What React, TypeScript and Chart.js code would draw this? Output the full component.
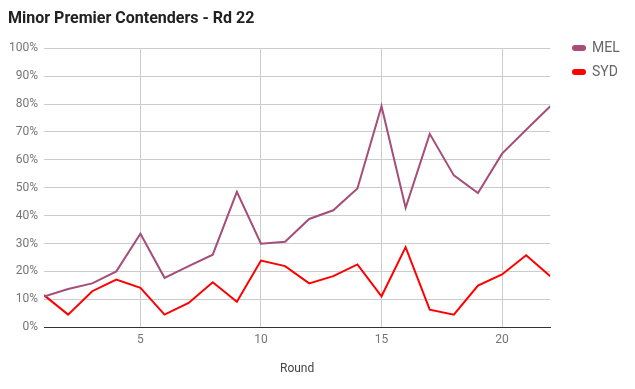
import React, { useEffect, useRef } from "react";
import { Chart, registerables } from "chart.js";

Chart.register(...registerables);

const rounds = [1, 2, 3, 4, 5, 6, 7, 8, 9, 10, 11, 12, 13, 14, 15, 16, 17, 18, 19, 20, 21, 22];
const melValues = [11, 13.7, 15.7, 20, 33.5, 17.7, 21.9, 26, 48.5, 29.9, 30.6, 38.8, 41.9, 49.7, 79.2, 42.8, 69.3, 54.4, 48.1, 62.2, 70.8, 79.2];
const sydValues = [11.5, 4.5, 12.9, 17.1, 14.1, 4.5, 8.7, 16.1, 9.1, 23.9, 21.9, 15.7, 18.3, 22.5, 11.1, 28.7, 6.3, 4.5, 14.9, 18.9, 25.8, 18.3];
const xTickValues = [5, 10, 15, 20];
const chartTitle = "Minor Premier Contenders - Rd 22";
const xAxisTitle = "Round";

const FONT = "Roboto, 'Noto Sans', sans-serif";

// Place the legend block beside the plot, level with its top edge.
const legendPlacePlugin = {
  id: "legendPlace",
  afterLayout(chart: any) {
    const lg = chart.legend;
    if (!lg) return;
    const targetLeft = 563;
    const targetTop = 31;
    const dx = targetLeft - lg.left;
    const dy = targetTop - lg.top;
    lg.left += dx;
    lg.right += dx;
    lg.top += dy;
    lg.bottom += dy;
  },
};

export default function App() {
  const ref = useRef<HTMLCanvasElement>(null);
  useEffect(() => {
    if (!ref.current) return;
    const chart = new Chart(ref.current, {
      type: "line",
      data: {
        datasets: [
          {
            label: "MEL",
            data: rounds.map((r, i) => ({ x: r, y: melValues[i] })),
            borderColor: "#a64d79",
            backgroundColor: "#a64d79",
            borderWidth: 2,
            pointRadius: 0,
            tension: 0,
          },
          {
            label: "SYD",
            data: rounds.map((r, i) => ({ x: r, y: sydValues[i] })),
            borderColor: "#ff0000",
            backgroundColor: "#ff0000",
            borderWidth: 2,
            pointRadius: 0,
            tension: 0,
          },
        ],
      },
      options: {
        animation: false,
        responsive: true,
        maintainAspectRatio: false,
        layout: { padding: { left: 8, right: 18, top: 0, bottom: 13 } },
        plugins: {
          title: {
            display: true,
            text: chartTitle,
            align: "start",
            color: "#212121",
            font: { family: FONT, size: 16, weight: "bold" },
            padding: { top: 9, bottom: 20 },
          },
          legend: {
            position: "right",
            align: "start",
            labels: {
              boxWidth: 12,
              boxHeight: 4,
              useBorderRadius: true,
              borderRadius: 2,
              color: "#666666",
              font: { family: FONT, size: 14 },
              padding: 10,
            },
          },
          tooltip: { enabled: false },
        },
        scales: {
          x: {
            type: "linear",
            min: 1,
            max: 22,
            afterBuildTicks: (scale: any) => {
              scale.ticks = xTickValues.map((v) => ({ value: v }));
            },
            grid: { color: "#cccccc", drawTicks: false },
            border: { display: true, color: "#333333", width: 1 },
            ticks: {
              color: "#757575",
              font: { family: FONT, size: 12 },
              padding: 6,
              maxRotation: 0,
            },
            title: {
              display: true,
              text: xAxisTitle,
              color: "#444444",
              font: { family: FONT, size: 12 },
              padding: { top: 8, bottom: 0 },
            },
          },
          y: {
            min: 0,
            max: 100,
            afterFit: (scale: any) => {
              scale.width = 36;
            },
            grid: {
              color: (c: any) => (c.tick && c.tick.value === 0 ? "#333333" : "#cccccc"),
              drawTicks: false,
            },
            border: { display: false },
            ticks: {
              stepSize: 10,
              color: "#757575",
              font: { family: FONT, size: 12 },
              padding: 6,
              callback: (v: any) => v + "%",
            },
          },
        },
      },
      plugins: [legendPlacePlugin],
    });
    return () => chart.destroy();
  }, []);
  return (
    <div style={{ position: "absolute", left: 0, top: 0, width: 635, height: 389 }}>
      <canvas ref={ref} />
    </div>
  );
}
